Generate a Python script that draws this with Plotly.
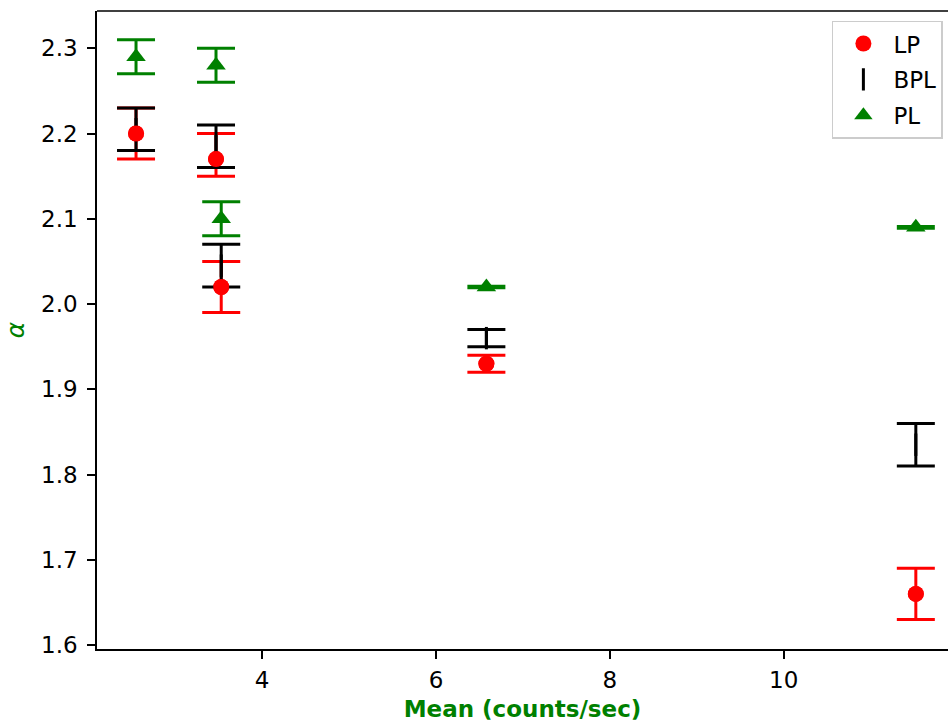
import plotly.graph_objects as go

# Data
mean_rate = [2.55, 3.47, 3.53, 6.58, 11.52]

lp_alpha = [2.20, 2.17, 2.02, 1.93, 1.66]
lp_err_plus = [0.03, 0.03, 0.03, 0.01, 0.03]
lp_err_minus = [0.03, 0.02, 0.03, 0.01, 0.03]

bpl_alpha = [2.205, 2.185, 2.045, 1.96, 1.835]
bpl_err = [0.025, 0.025, 0.025, 0.01, 0.025]

pl_alpha = [2.29, 2.28, 2.10, 2.02, 2.09]
pl_err = [0.02, 0.02, 0.02, 0.001, 0.001]

y_ticks = [1.6, 1.7, 1.8, 1.9, 2.0, 2.1, 2.2, 2.3]
x_ticks = [4, 6, 8, 10]

FONT = "DejaVu Sans"
FS = 23
RED, BLACK, GREEN = "#ff0000", "#000000", "#008000"
EB_W, EB_T = 19, 3

fig = go.Figure()

fig.add_trace(go.Scatter(
    x=mean_rate, y=lp_alpha, mode="markers", name="LP", legendgroup="lp",
    marker=dict(symbol="circle", size=16, color=RED),
    error_y=dict(type="data", symmetric=False, array=lp_err_plus, arrayminus=lp_err_minus,
                 color=RED, thickness=EB_T, width=EB_W),
))
fig.add_trace(go.Scatter(
    x=mean_rate, y=bpl_alpha, mode="markers", name="BPL", legendgroup="bpl",
    marker=dict(symbol="line-ns", size=16, color=BLACK,
                line=dict(color=BLACK, width=3)),
    error_y=dict(type="data", array=bpl_err, color=BLACK, thickness=EB_T, width=EB_W),
))
fig.add_trace(go.Scatter(
    x=mean_rate, y=pl_alpha, mode="markers", name="PL", legendgroup="pl",
    marker=dict(symbol="triangle-up", size=17, color=GREEN),
    error_y=dict(type="data", array=pl_err, color=GREEN, thickness=EB_T, width=EB_W),
))
# LP markers drawn again on top of the other error bars (as matplotlib does)
fig.add_trace(go.Scatter(
    x=mean_rate, y=lp_alpha, mode="markers", showlegend=False, hoverinfo="skip",
    marker=dict(symbol="circle", size=16, color=RED),
))

axis_common = dict(
    showline=True, linecolor="black", linewidth=1.6,
    ticks="outside", ticklen=8, tickwidth=1.6, tickcolor="black",
    showgrid=False, zeroline=False,
    tickfont=dict(family=FONT, size=FS, color="black"),
)

fig.update_layout(
    width=948, height=727,
    margin=dict(l=97, r=0, t=11, b=78),
    paper_bgcolor="white", plot_bgcolor="white",
    font=dict(family=FONT, size=FS, color="black"),
    xaxis=dict(
        range=[2.101, 11.89], tickvals=x_ticks, ticktext=[str(v) for v in x_ticks],
        ticklabelstandoff=2,
        title=dict(text="<b>Mean (counts/sec)</b>", font=dict(family=FONT, size=FS, color=GREEN),
                   standoff=8),
        **axis_common,
    ),
    yaxis=dict(
        range=[1.5954, 2.3437], tickvals=y_ticks, ticktext=[f"{v:.1f}" for v in y_ticks],
        ticklabelstandoff=5,
        title=dict(text="<i>α</i>", font=dict(family=FONT, size=25, color=GREEN), standoff=9),
        **axis_common,
    ),
    legend=dict(
        x=0.994, y=0.985, xanchor="right", yanchor="top",
        bgcolor="rgba(255,255,255,0.8)", bordercolor="#cccccc", borderwidth=1.5,
        font=dict(family=FONT, size=FS, color="black"),
        itemsizing="trace", itemwidth=50, tracegroupgap=3,
    ),
    shapes=[dict(type="line", xref="paper", yref="paper", x0=0, x1=1, y0=1, y1=1,
                 line=dict(color="black", width=1.6))],
)

fig.write_html(
    "out.html",
    config={"displayModeBar": False},
    post_script="document.body.style.margin='0';document.body.style.overflow='hidden';",
)
